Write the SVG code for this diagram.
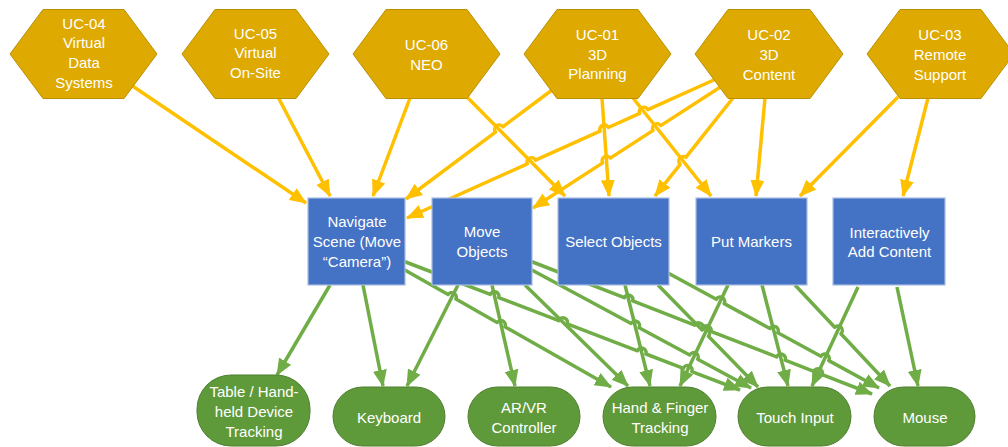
<svg xmlns="http://www.w3.org/2000/svg" width="1008" height="447" viewBox="0 0 1008 447">
<defs>
<style>
.hex{fill:#DEA900;stroke:#B89000;stroke-width:1}
.box{fill:#4472C4;stroke:#A9BDE3;stroke-width:1.2}
.term{fill:#5F9A3A;stroke:#4E7F2E;stroke-width:1}
.t{font-family:"Liberation Sans",Arial,sans-serif;font-size:15px;fill:#FFFFFF;text-anchor:middle}
.y{fill:none;stroke:#FFC000;stroke-width:3.5;stroke-linejoin:round;marker-end:url(#ay)}
.g{fill:none;stroke:#70AD47;stroke-width:3.5;stroke-linejoin:round;marker-end:url(#ag)}
</style>
<marker id="ay" markerUnits="userSpaceOnUse" markerWidth="17" markerHeight="15" viewBox="0 0 17 15" refX="16" refY="7.5" orient="auto"><path d="M0,0.5 L17,7.5 L0,14.5 Z" fill="#FFC000"/></marker>
<marker id="ag" markerUnits="userSpaceOnUse" markerWidth="17" markerHeight="15" viewBox="0 0 17 15" refX="16" refY="7.5" orient="auto"><path d="M0,0.5 L17,7.5 L0,14.5 Z" fill="#70AD47"/></marker>
</defs>
<rect width="1008" height="447" fill="#FFFFFF"/>

<g id="connectors">
<path class="y" d="M131,85 L306,203"/>
<path class="y" d="M278,97 L330,196"/>
<path class="y" d="M410,98 L373,196"/>
<path class="y" d="M552,90 L502.7,126.8 A4.5,4.5 0 0 0 495.5,132.2 L406,199"/>
<path class="y" d="M716,79 L647.9,109.7 A4.5,4.5 0 0 0 639.7,113.4 L608.3,127.5 A4.5,4.5 0 0 0 600.1,131.2 L535.5,160.2 A4.5,4.5 0 0 0 527.3,163.9 L407,218"/>
<path class="y" d="M722,86 L660.7,125.6 A4.5,4.5 0 0 0 653.1,130.4 L610.3,158.1 A4.5,4.5 0 0 0 602.7,162.9 L533,208"/>
<path class="y" d="M467,97 L565,196"/>
<path class="y" d="M602,98 L609,196"/>
<path class="y" d="M733,98 L685.8,157.3 A4.5,4.5 0 0 0 680.2,164.3 L655,196"/>
<path class="y" d="M633,98 L711,196"/>
<path class="y" d="M765,98 L756,196"/>
<path class="y" d="M898,97 L800,196"/>
<path class="y" d="M928,98 L903,196"/>

<path class="g" d="M330,285 L277,375"/>
<path class="g" d="M363,285 L383,386"/>
<path class="g" d="M403,261 L490.3,294.4 A4.5,4.5 0 0 1 498.7,297.6 L558.8,320.6 A4.5,4.5 0 0 1 567.2,323.9 L637.5,350.8 A4.5,4.5 0 0 1 645.9,354.0 L683.4,368.3 A4.5,4.5 0 0 1 691.8,371.6 L740,390"/>
<path class="g" d="M403,269 L448.1,294.6 A4.5,4.5 0 0 1 455.9,299.0 L497.1,322.4 A4.5,4.5 0 0 1 504.9,326.8 L611,387"/>
<path class="g" d="M458,285 L407,386"/>
<path class="g" d="M492,285 L515,386"/>
<path class="g" d="M525,285 L628,386"/>
<path class="g" d="M530,261 L624.3,297.7 A4.5,4.5 0 0 1 632.7,300.9 L694.7,325.1 A4.4,4.4 0 0 1 702.8,328.2 A4.4,4.4 0 0 1 710.9,331.4 L776.7,356.9 A4.5,4.5 0 0 1 785.1,360.2 L813.8,371.4 A4.5,4.5 0 0 1 822.2,374.6 L872,394"/>
<path class="g" d="M530,269 L631.1,323.5 A4.5,4.5 0 0 1 639.1,327.7 L689.7,355.0 A4.5,4.5 0 0 1 697.7,359.3 L751,388"/>
<path class="g" d="M625,285 L650,386"/>
<path class="g" d="M658,285 L702.1,329.9 A4.5,4.5 0 0 1 708.4,336.3 L758,387"/>
<path class="g" d="M668,273 L716.3,299.3 A4.5,4.5 0 0 1 724.2,303.6 L769.9,328.5 A4.5,4.5 0 0 1 777.8,332.8 L820.9,356.3 A4.5,4.5 0 0 1 828.8,360.6 L879,388"/>
<path class="g" d="M728,285 L680,386"/>
<path class="g" d="M762,285 L788,386"/>
<path class="g" d="M795,285 L834.7,327.2 A4.5,4.5 0 0 1 840.9,333.8 L890,386"/>
<path class="g" d="M858,287 L812,386"/>
<path class="g" d="M897,287 L918,386"/>
</g>

<g id="uc04"><polygon class="hex" points="10,54 43,9.5 124,9.5 157,54 124,98.5 43,98.5"/>
<text class="t" x="84" y="28.5">UC-04</text><text class="t" x="84" y="48.2">Virtual</text><text class="t" x="84" y="67.9">Data</text><text class="t" x="84" y="87.6">Systems</text></g>
<g id="uc05"><polygon class="hex" points="182,54 215,9.5 296,9.5 329,54 296,98.5 215,98.5"/>
<text class="t" x="255.5" y="38.5">UC-05</text><text class="t" x="255.5" y="58.2">Virtual</text><text class="t" x="255.5" y="77.9">On-Site</text></g>
<g id="uc06"><polygon class="hex" points="353,54 386,9.5 467,9.5 500,54 467,98.5 386,98.5"/>
<text class="t" x="426.5" y="50">UC-06</text><text class="t" x="426.5" y="70">NEO</text></g>
<g id="uc01"><polygon class="hex" points="524,54 557,9.5 638,9.5 671,54 638,98.5 557,98.5"/>
<text class="t" x="597.5" y="39.5">UC-01</text><text class="t" x="597.5" y="59.5">3D</text><text class="t" x="597.5" y="79.2">Planning</text></g>
<g id="uc02"><polygon class="hex" points="695,54 728,9.5 810,9.5 843,54 810,98.5 728,98.5"/>
<text class="t" x="769" y="40">UC-02</text><text class="t" x="769" y="60">3D</text><text class="t" x="769" y="80">Content</text></g>
<g id="uc03"><polygon class="hex" points="867,54 900,9.5 981,9.5 1014,54 981,98.5 900,98.5"/>
<text class="t" x="940" y="40">UC-03</text><text class="t" x="940" y="60">Remote</text><text class="t" x="940" y="79.7">Support</text></g>

<g id="navigate"><rect class="box" x="308" y="198" width="97" height="87"/>
<text class="t" x="357" y="227">Navigate</text><text class="t" x="357" y="247">Scene (Move</text><text class="t" x="357" y="267">“Camera”)</text></g>
<g id="move"><rect class="box" x="432" y="198" width="100" height="87"/>
<text class="t" x="482" y="237">Move</text><text class="t" x="482" y="257">Objects</text></g>
<g id="select"><rect class="box" x="558" y="198" width="111" height="87"/>
<text class="t" x="613.5" y="247">Select Objects</text></g>
<g id="markers"><rect class="box" x="696" y="198" width="111" height="87"/>
<text class="t" x="751.5" y="247">Put Markers</text></g>
<g id="addcontent"><rect class="box" x="833" y="198" width="112" height="87"/>
<text class="t" x="889.5" y="237.5">Interactively</text><text class="t" x="889.5" y="257">Add Content</text></g>

<g id="table"><rect class="term" x="197" y="375" width="113" height="71" rx="34" ry="34"/>
<text class="t" x="254" y="397">Table / Hand-</text><text class="t" x="254" y="417">held Device</text><text class="t" x="254" y="436.5">Tracking</text></g>
<g id="keyboard"><rect class="term" x="333" y="387" width="112" height="59" rx="29.5" ry="29.5"/>
<text class="t" x="389" y="423">Keyboard</text></g>
<g id="arvr"><rect class="term" x="468" y="387" width="112" height="59" rx="29.5" ry="29.5"/>
<text class="t" x="524" y="412.5">AR/VR</text><text class="t" x="524" y="432.5">Controller</text></g>
<g id="hand"><rect class="term" x="603" y="387" width="113" height="59" rx="29.5" ry="29.5"/>
<text class="t" x="660" y="413">Hand &amp; Finger</text><text class="t" x="660" y="432.7">Tracking</text></g>
<g id="touch"><rect class="term" x="738" y="387" width="113" height="59" rx="29.5" ry="29.5"/>
<text class="t" x="795" y="423">Touch Input</text></g>
<g id="mouse"><rect class="term" x="874" y="387" width="101" height="59" rx="29.5" ry="29.5"/>
<text class="t" x="925" y="423">Mouse</text></g>
</svg>
